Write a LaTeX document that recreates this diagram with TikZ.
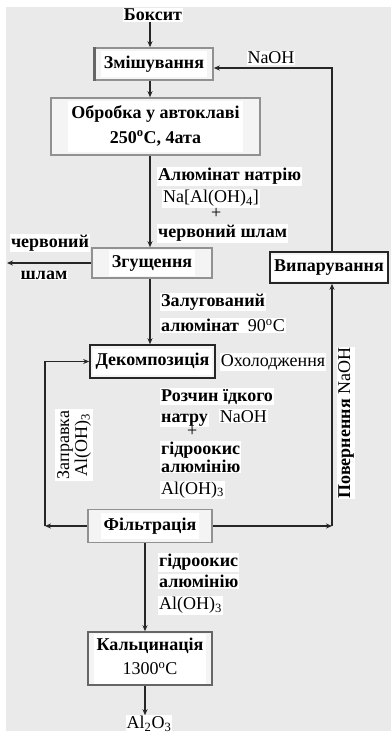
\documentclass[tikz,border=0pt]{standalone}
\usepackage{fontspec}
\setmainfont{Liberation Serif}
\definecolor{panelgray}{RGB}{234,234,234}
\definecolor{edgegray}{RGB}{145,145,145}
\usetikzlibrary{arrows.meta}
\newcommand{\onwhite}[1]{{\fboxsep=1pt\colorbox{white}{#1}}}
\newcommand{\inbox}[1]{{\fboxsep=3pt\colorbox{white}{\begin{tabular}{@{}c@{}}#1\end{tabular}}}}
\newcommand{\chem}[1]{{\mdseries #1}}
\tikzset{
  procbox/.style={draw=edgegray, line width=1.6pt, fill=panelgray!50, inner sep=0pt},
  darkbox/.style={procbox, draw=black!85},
  wire/.style={->, >={Stealth[length=6pt,width=5pt]}, line width=1.2pt, black!85},
  tag/.style={inner sep=0pt, align=left}
}

\begin{document}
\begin{tikzpicture}[x=1pt, y=-1pt, font=\fontsize{18}{20}\selectfont\bfseries]
  \useasboundingbox (0,0) rectangle (391,742);
  \fill[panelgray] (6,7) rectangle (391,731);
  \coordinate (col) at (150,0);
  \coordinate (colb) at (145,0);
  % process boxes
  \node[tag] (bauxite) at (153,15) {\onwhite{Боксит}};
  \node[procbox, minimum width=118pt, minimum height=32pt] (mix) at (154,64) {\inbox{Змішування}};
  \draw[line width=2.6pt, black!60] (mix.north west) -- (mix.south west);
  \node[procbox, minimum width=209pt, minimum height=57pt] (auto) at (155.5,126.5)
    {\inbox{Обробка у автоклаві\\[5pt]250\textsuperscript{o}C, 4ата}};
  \node[procbox, minimum width=120pt, minimum height=30pt] (thick) at (152,263) {\inbox{Згущення}};
  \node[darkbox, minimum width=118pt, minimum height=31pt] (evap) at (329,267.5) {\inbox{Випарування}};
  \node[darkbox, minimum width=125pt, minimum height=33pt] (dec) at (152.5,361.5) {\inbox{Декомпозиція}};
  \node[procbox, minimum width=124pt, minimum height=33pt] (filt) at (150,526) {\inbox{Фільтрація}};
  \node[procbox, draw=black!60, minimum width=124pt, minimum height=53pt] (calc) at (150,658.5)
    {\inbox{Кальцинація\\[4pt]\chem{1300\textsuperscript{o}C}}};
  \node[tag] (product) at (149,724) {\onwhite{\chem{Al\textsubscript{2}O\textsubscript{3}}}};
  % stream labels
  \node[tag, anchor=north west] (alum) at (157,167)
    {\onwhite{Алюмінат натрію}\\[2pt]
     \hspace*{5pt}\onwhite{\chem{Na[Al(OH)\textsubscript{4}]}}\\[-4pt]
     \hspace*{54pt}\chem{+}\\[-1pt]
     \onwhite{червоний шлам}};
  \node[tag] (mudtop) at (50,243) {\onwhite{червоний}};
  \node[tag] (mudbot) at (44,275) {\onwhite{шлам}};
  \node[tag] (naoh) at (271,58) {\onwhite{\chem{NaOH}}};
  \node[tag, anchor=north west] (liquor) at (160,293)
    {\onwhite{Залугований}\\[5pt] \onwhite{алюмінат \ \chem{90\textsuperscript{o}C}}};
  \node[tag] (cool) at (273,362) {\onwhite{\chem{Охолодження}}};
  \node[tag, anchor=north west] (caustic) at (160,388)
    {\onwhite{Розчин їдкого}\\[1pt]
     \onwhite{натру}\hspace{10pt}\onwhite{\chem{NaOH}}\\[-6pt]
     \hspace*{27pt}\chem{+}\\[-2pt]
     \onwhite{гідроокис}\\[-2pt]
     \onwhite{алюмінію}\\[2pt]
     \onwhite{\chem{Al(OH)\textsubscript{3}}}};
  \node[tag, align=center, fill=white, inner sep=2pt, rotate=90] (seedtag) at (74,445)
    {\chem{Заправка}\\[-2pt] \chem{Al(OH)\textsubscript{3}}};
  \node[tag, rotate=90] (backtag) at (346,423) {\onwhite{Повернення \chem{NaOH}}};
  \node[tag, anchor=north west] (hydrox) at (158,553)
    {\onwhite{гідроокис}\\[1pt] \onwhite{алюмінію}\\[2pt] \onwhite{\chem{Al(OH)\textsubscript{3}}}};
  % connectors
  \coordinate (mudend) at (7,263);
  \coordinate (feed) at (332,68);
  \coordinate (ret) at (332,526);
  \coordinate (seed) at (45,526);
  \draw[wire] (bauxite.south -| col) -- (mix.north -| col);
  \draw[wire] (mix.south -| col) -- (auto.north -| col);
  \draw[wire] (auto.south -| col) -- (thick.north -| col);
  \draw[wire] (thick.south -| col) -- (dec.north -| col);
  \draw[wire] (filt.south -| colb) -- (calc.north -| colb);
  \draw[wire] (calc.south -| colb) -- (product.north -| colb);
  \draw[wire] (thick.west) -- (mudend);
  \draw[wire] (evap.north -| feed) -- (feed) -- (feed -| mix.east);
  \draw[wire] (filt.east) -- (ret);
  \draw[wire] (ret) -- (ret |- evap.south);
  \draw[wire] (filt.west) -- (seed);
  \draw[wire] (seed) |- (dec.west);
\end{tikzpicture}
\end{document}
